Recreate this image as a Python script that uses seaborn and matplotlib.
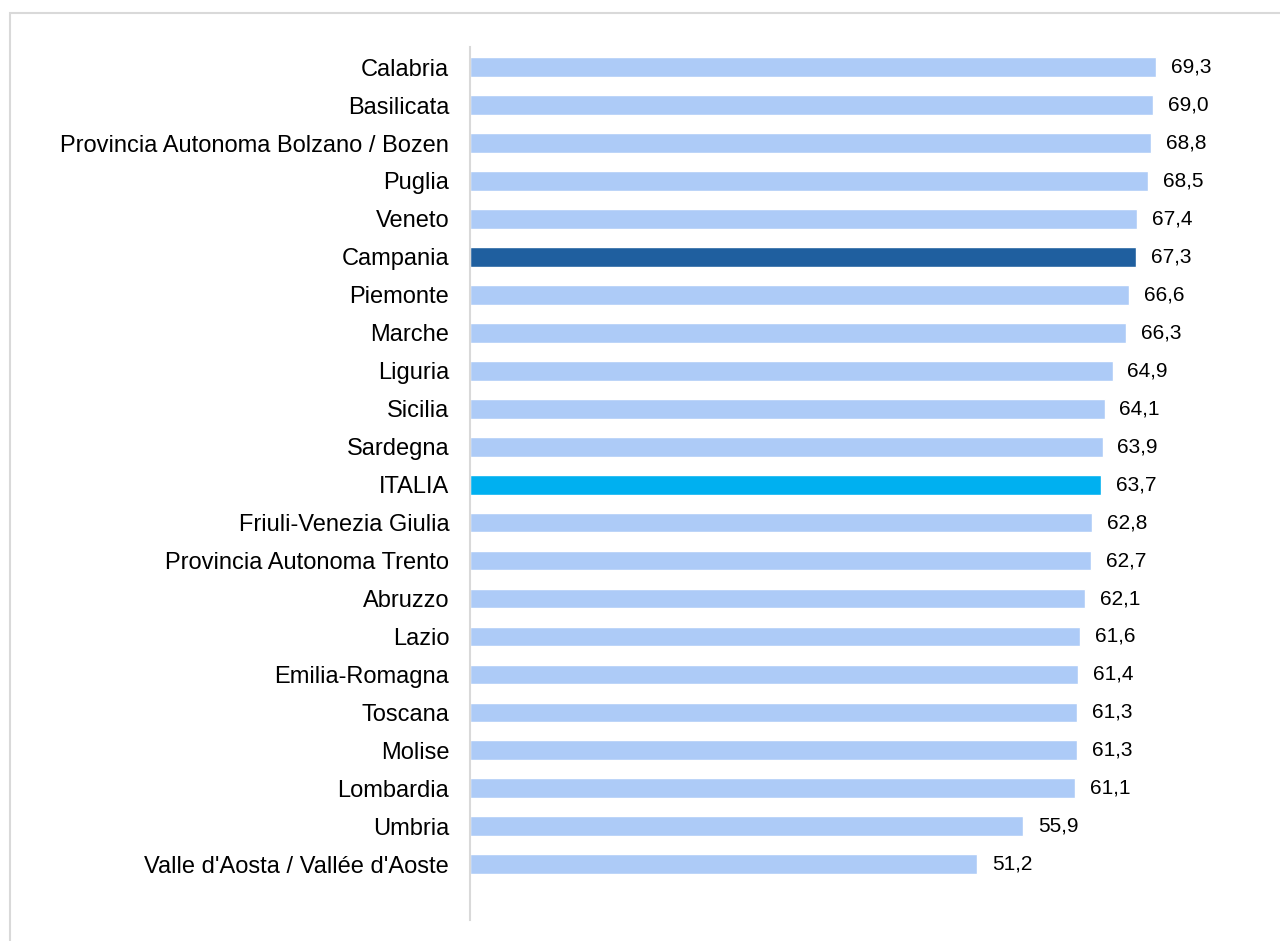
import numpy as np
import pandas as pd
import matplotlib
matplotlib.use('Agg')
import matplotlib.pyplot as plt
import seaborn as sns
from matplotlib.patches import Rectangle

# dati
regioni = ['Calabria', 'Basilicata', 'Provincia Autonoma Bolzano / Bozen', 'Puglia',
           'Veneto', 'Campania', 'Piemonte', 'Marche', 'Liguria', 'Sicilia',
           'Sardegna', 'ITALIA', 'Friuli-Venezia Giulia', 'Provincia Autonoma Trento',
           'Abruzzo', 'Lazio', 'Emilia-Romagna', 'Toscana', 'Molise', 'Lombardia',
           'Umbria', "Valle d'Aosta / Vallée d'Aoste"]
valori = [69.3, 69.0, 68.8, 68.5, 67.4, 67.3, 66.6, 66.3, 64.9, 64.1,
          63.9, 63.7, 62.8, 62.7, 62.1, 61.6, 61.4, 61.3, 61.3, 61.1,
          55.9, 51.2]

def colore(r):
    if r == 'Campania':
        return '#1F5F9F'
    if r == 'ITALIA':
        return '#00B0F0'
    return '#ADCBF7'

df = pd.DataFrame({'regione': regioni, 'valore': valori})
palette = {r: colore(r) for r in regioni}

sns.set_style('white')
plt.rcParams['font.family'] = ['Liberation Sans', 'DejaVu Sans']

fig = plt.figure(figsize=(12.8, 9.41), dpi=100)
ax = fig.add_axes([470/1280, 1 - 920/941, (1265-470)/1280, (920-47)/941])

sns.barplot(data=df, y='regione', x='valore', hue='regione', palette=palette,
            order=regioni, width=0.52, legend=False, ax=ax, saturation=1)

ax.set_xlim(0, 80.3)
ax.set_ylim(len(regioni) - 1 + 1.47, -0.53)
ax.set_xlabel('')
ax.set_ylabel('')
ax.set_xticks([])
ax.tick_params(axis='y', length=0, pad=15, labelsize=17, labelcolor='black')
for s in ['top', 'right', 'bottom']:
    ax.spines[s].set_visible(False)
ax.spines['left'].set_color('#d9d9d9')
ax.spines['left'].set_linewidth(1.5)

# etichette valori
for i, v in enumerate(valori):
    ax.text(v + 1.5, i, f'{v:.1f}'.replace('.', ','), va='center', ha='left',
            fontsize=15, color='black')

# cornice
fig.patches.append(Rectangle((10/1280, -0.05), 1.1, 1 - 13/941 + 0.05,
                             transform=fig.transFigure, fill=False,
                             edgecolor='#d9d9d9', linewidth=1.5))

fig.savefig('out.png', dpi=100)
